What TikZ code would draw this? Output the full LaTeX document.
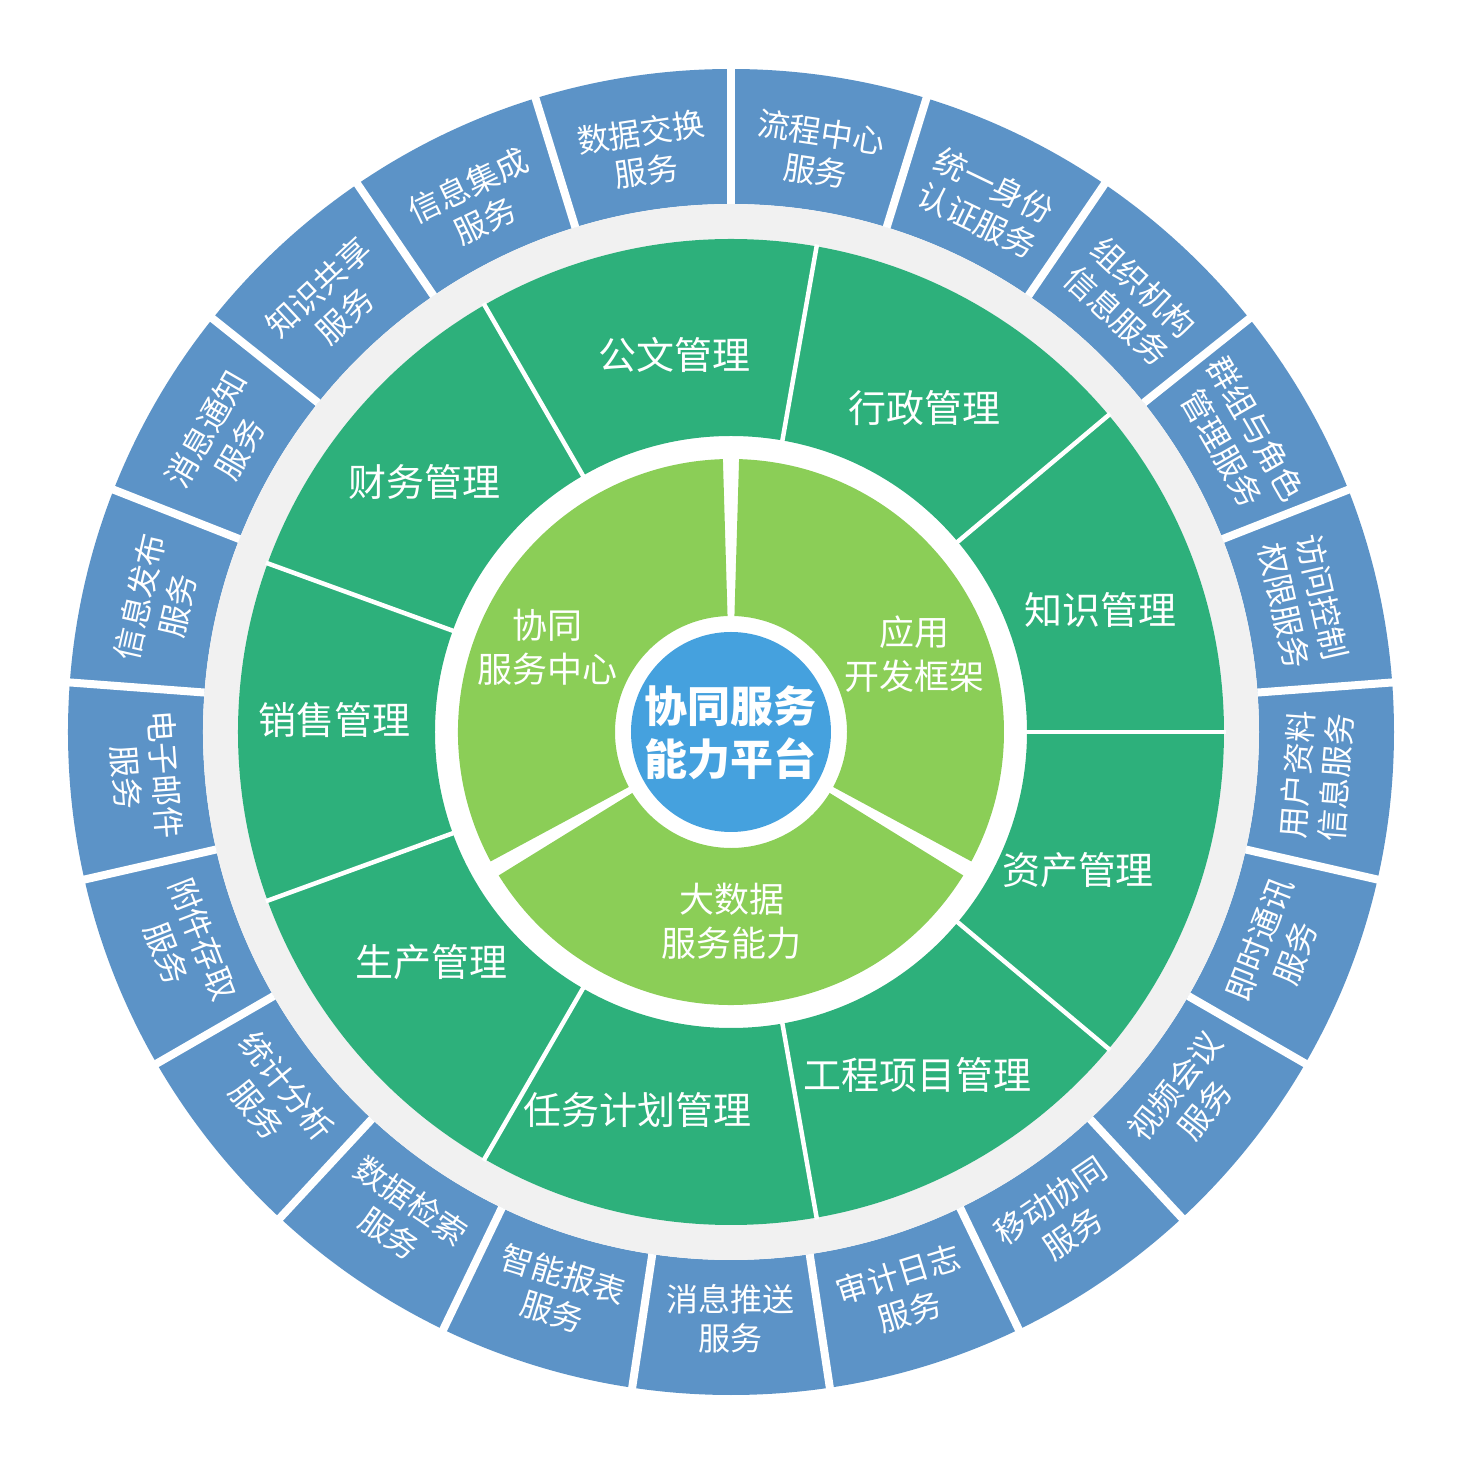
\documentclass[tikz,border=0pt]{standalone}
\usepackage{fontspec}
\setmainfont{Noto Sans CJK SC}
\definecolor{bluering}{RGB}{92,147,199}
\definecolor{darkg}{RGB}{45,176,123}
\definecolor{lightg}{RGB}{139,206,87}
\definecolor{centerb}{RGB}{69,161,222}
\definecolor{grayband}{RGB}{241,241,241}
\tikzset{
  bluelbl/.style={text=white, align=center, inner sep=0pt, font=\fontsize{32}{39}\selectfont},
  greenlbl/.style={text=white, align=center, inner sep=0pt, font=\fontsize{38}{46}\selectfont},
  lightlbl/.style={text=white, align=center, inner sep=0pt, font=\fontsize{35}{44}\selectfont},
  centerlbl/.style={text=white, align=center, inner sep=0pt, font=\fontsize{43}{53}\selectfont\bfseries},
  sep/.style={white, line width=#1}
}
\begin{document}
\begin{tikzpicture}[x=1pt,y=1pt]
\useasboundingbox (-731,-726) rectangle (729,732);
% outer blue ring and gray band
\fill[bluering, even odd rule] (0,0) circle[radius=663pt] (0,0) circle[radius=528pt];
\fill[grayband, even odd rule] (0,0) circle[radius=528pt] (0,0) circle[radius=493pt];
\foreach \k in {0,...,20}
  \draw[sep=8pt] ({90+\k*360/21}:528pt) -- ({90+\k*360/21}:668pt);
% middle dark green ring
\fill[darkg, even odd rule] (0,0) circle[radius=493pt] (0,0) circle[radius=296pt];
\foreach \a in {80,40,0,-40,-80,-120,-160,-200,-240}
  \draw[sep=4.5pt] (\a:294pt) -- (\a:495pt);
% inner light green sectors
\foreach \s/\e in {91.7/208.3, -28.3/88.3, -148.3/-31.7}
  \fill[lightg] (\s:116pt) arc[start angle=\s, end angle=\e, radius=116pt]
     -- (\e:273pt) arc[start angle=\e, end angle=\s, radius=273pt] -- cycle;
\foreach \a in {90,-30,-150}
  \draw[sep=6pt] (\a:110pt) -- (\a:280pt);
% centre
\fill[centerb] (0,0) circle[radius=100pt];
\node[centerlbl] (core) at (0,-1) {协同服务\\能力平台};
% inner labels
\node[lightlbl] (xt) at (-183,85) {协同\\服务中心};
\node[lightlbl] (yy) at (184,78) {应用\\开发框架};
\node[lightlbl] (dsj) at (1,-189) {大数据\\服务能力};
% middle labels
\node[greenlbl] (gw) at (-56,377) {公文管理};
\node[greenlbl] (xz) at (194,324) {行政管理};
\node[greenlbl] (zs) at (369,122) {知识管理};
\node[greenlbl] (zc) at (347,-138) {资产管理};
\node[greenlbl] (gc) at (187,-343) {工程项目管理};
\node[greenlbl] (rw) at (-93,-378) {任务计划管理};
\node[greenlbl] (sc) at (-299,-230) {生产管理};
\node[greenlbl] (xs) at (-396,12) {销售管理};
\node[greenlbl] (cw) at (-306,250) {财务管理};
% outer labels
\foreach \m/\r/\t [count=\i] in {
  98.571/8.571/{数据交换\\服务},
  115.714/25.714/{信息集成\\服务},
  132.857/42.857/{知识共享\\服务},
  150/60/{消息通知\\服务},
  167.143/77.143/{信息发布\\服务},
  184.286/-85.714/{电子邮件\\服务},
  201.429/-68.571/{附件存取\\服务},
  218.571/-51.429/{统计分析\\服务},
  235.714/-34.286/{数据检索\\服务},
  252.857/-17.143/{智能报表\\服务},
  270/0/{消息推送\\服务},
  287.143/17.143/{审计日志\\服务},
  304.286/34.286/{移动协同\\服务},
  321.429/51.429/{视频会议\\服务},
  338.571/68.571/{即时通讯\\服务},
  355.714/85.714/{用户资料\\信息服务},
  12.857/-77.143/{访问控制\\权限服务},
  30/-60/{群组与角色\\管理服务},
  47.143/-42.857/{组织机构\\信息服务},
  64.286/-25.714/{统一身份\\认证服务},
  81.429/-8.571/{流程中心\\服务}}
  \node[bluelbl, rotate=\r] (svc\i) at (\m:587pt) {\t};
\end{tikzpicture}
\end{document}
